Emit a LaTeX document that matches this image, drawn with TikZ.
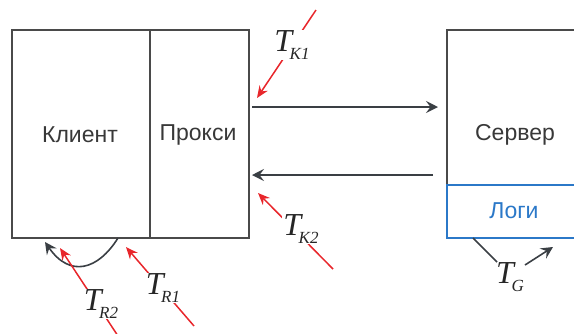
\documentclass[tikz,border=0pt]{standalone}
\usepackage{fontspec}
\setmainfont{Liberation Sans}
\newfontfamily\serifit{Liberation Serif}
\usetikzlibrary{arrows.meta}
\definecolor{boxgray}{HTML}{4A4A4A}
\definecolor{arrgray}{HTML}{3A3F44}
\definecolor{redln}{HTML}{E8262B}
\definecolor{logblue}{HTML}{2B78C8}
\newcommand\tlab[1]{{\serifit\itshape\fontsize{32}{32}\selectfont T}\kern-2.5pt\raisebox{-8pt}{\serifit\itshape\fontsize{17}{17}\selectfont #1}}
\begin{document}
\begin{tikzpicture}[x=1pt,y=-1pt,
  box/.style={draw=boxgray,line width=1.6pt,inner sep=0pt,anchor=north west},
  txt/.style={font=\fontsize{23}{23}\selectfont,text=black!78,inner sep=0pt},
  garrow/.style={draw=arrgray,line width=1.8pt,-{Stealth[length=12pt,width=12pt,inset=4.5pt]}},
  rarrow/.style={draw=redln,line width=1.5pt,-{Stealth[length=12pt,width=10pt,inset=4pt]}},
  tl/.style={fill=white,inner sep=1pt,text=black!85},
  tlnofill/.style={inner sep=1pt,text=black!85}]
\useasboundingbox (0,0) rectangle (574,333);
\clip (0,0) rectangle (574,333);
% boxes
\node[box,minimum width=138pt,minimum height=208pt] (klient) at (11,29) {};
\node[box,minimum width=99pt,minimum height=208pt] (proksi) at (149,29) {};
\node[box,minimum width=140pt,minimum height=155pt] (server) at (446,29) {};
\node[box,draw=logblue,minimum width=140pt,minimum height=53pt] (logs) at (446,184) {};
\node[txt] (tklient) at (80,135) {Клиент};
\node[txt] (tproksi) at (198,135) {Прокси};
\node[txt] (tserver) at (515,135) {Сервер};
\node[txt,text=logblue] (tlogs) at (514,211) {Логи};
% horizontal arrows
\coordinate (p1) at (252,107);
\coordinate (s1) at (438,107);
\coordinate (s2) at (433,175);
\coordinate (p2) at (252,175);
\draw[garrow] (p1) -- (s1);
\draw[garrow] (s2) -- (p2);
% client curved arrow
\coordinate (c1) at (118,238);
\coordinate (c2) at (45,242);
\draw[garrow,line width=1.6pt] (c1) .. controls (98,270) and (70,278) .. (c2);
% red arrows with labels
\coordinate (k1a) at (316,10);
\coordinate (k1b) at (257,98);
\draw[rarrow] (k1a) -- (k1b);
\node[tl] (tk1) at (292,45) {\tlab{K1}};
\coordinate (k2a) at (333,269);
\coordinate (k2b) at (258,193);
\draw[rarrow] (k2a) -- (k2b);
\node[tl] (tk2) at (301,229) {\tlab{K2}};
\coordinate (r1a) at (194,326);
\coordinate (r1b) at (126,247);
\draw[rarrow] (r1a) -- (r1b);
\node[tl] (tr1) at (163,288) {\tlab{R1}};
\coordinate (r2a) at (118,336);
\coordinate (r2b) at (60,248);
\draw[rarrow] (r2a) -- (r2b);
\node[tl] (tr2) at (101,304) {\tlab{R2}};
% T_G
\coordinate (g1) at (473,238);
\coordinate (g2) at (497,262);
\draw[draw=arrgray,line width=1.6pt] (g1) -- (g2);
\node[tlnofill] (tg) at (510,277) {\tlab{G}};
\coordinate (g3) at (525,265);
\coordinate (g4) at (553,247);
\draw[garrow,line width=1.6pt] (g3) -- (g4);
\end{tikzpicture}
\end{document}
